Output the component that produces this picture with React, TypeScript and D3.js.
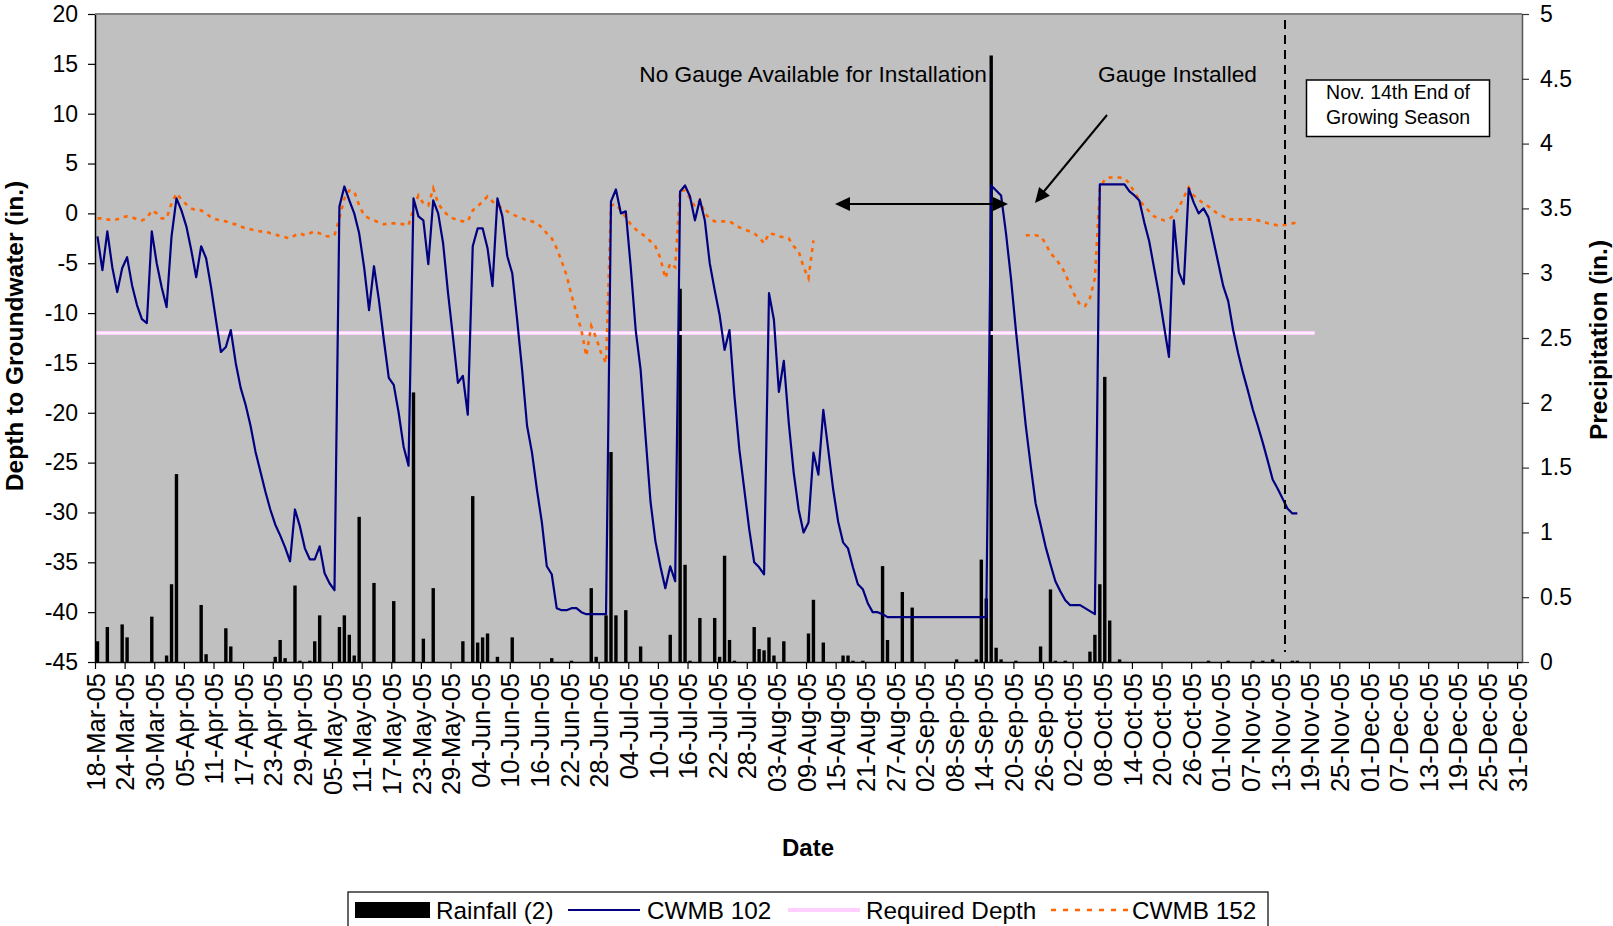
import React, { useRef, useEffect } from 'react';
import * as d3 from 'd3';

// axis range and ticks
const START = '2005-03-18';
const END = '2006-01-01';
const TICK_STEP_DAYS = 6;
const leftTicks = [20, 15, 10, 5, 0, -5, -10, -15, -20, -25, -30, -35, -40, -45];
const rightTicks = [0, 0.5, 1, 1.5, 2, 2.5, 3, 3.5, 4, 4.5, 5];

// CWMB 102, daily from 18-Mar-05 (inches)
const cwmb102 = [
  -2.3, -5.7, -1.8, -5.4, -7.9, -5.5, -4.4, -7.2, -9.2, -10.6,
  -11.0, -1.8, -5.0, -7.4, -9.4, -2.3, 1.5, 0.3, -1.3, -3.7,
  -6.4, -3.3, -4.5, -7.4, -10.7, -13.9, -13.4, -11.7, -15.0, -17.5,
  -19.2, -21.3, -23.9, -25.9, -27.9, -29.7, -31.2, -32.3, -33.5, -34.9,
  -29.7, -31.4, -33.6, -34.7, -34.7, -33.4, -36.1, -37.1, -37.8, 0.7,
  2.7, 1.3, 0.0, -2.0, -5.4, -9.7, -5.3, -8.7, -12.7, -16.5,
  -17.2, -20.0, -23.4, -25.3, 1.5, -0.3, -0.7, -5.1, 1.3, 0.0,
  -3.0, -8.0, -12.4, -17.0, -16.3, -20.2, -3.3, -1.5, -1.5, -3.5,
  -7.3, 1.5, -0.3, -4.3, -6.0, -10.7, -15.7, -21.3, -24.0, -27.7,
  -31.0, -35.4, -36.2, -39.6, -39.8, -39.8, -39.6, -39.6, -40.0, -40.2,
  -40.2, -40.2, -40.2, -40.2, 1.2, 2.4, 0.0, 0.2, -5.4, -11.7,
  -15.7, -22.4, -28.9, -32.9, -35.4, -37.6, -35.4, -36.9, 2.2, 2.8,
  1.7, -0.7, 1.4, -0.7, -5.0, -7.7, -10.2, -13.7, -11.7, -18.3,
  -23.7, -27.7, -31.7, -35.0, -35.5, -36.2, -8.0, -10.7, -17.9, -14.8,
  -21.0, -26.0, -29.7, -32.0, -31.0, -24.0, -26.2, -19.7, -23.7, -27.7,
  -30.9, -33.0, -33.6, -35.5, -37.2, -37.7, -39.1, -40.0, -40.0, -40.2,
  -40.5, -40.5, -40.5, -40.5, -40.5, -40.5, -40.5, -40.5, -40.5, -40.5,
  -40.5, -40.5, -40.5, -40.5, -40.5, -40.5, -40.5, -40.5, -40.5, -40.5,
  -40.5, 2.8, 2.3, 1.8, -2.0, -6.5, -11.7, -16.5, -21.3, -25.3,
  -29.1, -31.2, -33.4, -35.2, -36.9, -37.9, -38.8, -39.3, -39.3, -39.3,
  -39.6, -39.9, -40.2, 2.9, 2.9, 2.9, 2.9, 2.9, 2.9, 2.2,
  1.8, 1.3, -0.9, -2.8, -5.5, -8.2, -11.3, -14.4, -0.7, -5.9,
  -7.1, 2.5, 1.1, 0.0, 0.5, -0.4, -2.7, -5.0, -7.3, -8.8,
  -11.7, -14.0, -16.0, -17.8, -19.7, -21.3, -23.0, -24.8, -26.7, -27.6,
  -28.6, -29.6, -30.1, -30.1,
];

// CWMB 152, two runs (no gauge between them)
const cwmb152aStart = '2005-03-18';
const cwmb152a = [
  -0.5, -0.5, -0.6, -0.7, -0.6, -0.4, -0.3, -0.4, -0.6, -0.7,
  -0.5, 0.3, 0.0, -0.5, -0.5, 1.0, 2.0, 1.4, 0.9, 0.5,
  0.3, 0.3, 0.0, -0.4, -0.6, -0.7, -0.8, -1.0, -1.1, -1.3,
  -1.5, -1.6, -1.7, -1.8, -1.8, -2.0, -2.1, -2.3, -2.4, -2.5,
  -2.2, -2.0, -2.2, -2.0, -1.8, -2.0, -2.3, -2.3, -2.2, -0.5,
  1.5, 2.3, 2.2, 0.8, -0.2, -0.5, -0.7, -0.9, -1.1, -1.0,
  -1.0, -1.0, -1.1, -1.2, 0.5, 1.8, 1.0, 0.8, 2.5, 1.0,
  0.3, -0.2, -0.5, -0.7, -0.8, -0.8, 0.3, 0.7, 1.2, 1.7,
  1.2, 0.8, 0.5, 0.2, -0.1, -0.3, -0.5, -0.7, -0.8, -1.0,
  -1.4, -2.0, -2.5, -3.5, -4.8, -6.2, -8.2, -10.0, -11.7, -14.3,
  -11.3, -12.5, -14.0, -15.0, 0.8, 0.9, 0.3, -0.4, -1.1, -1.6,
  -2.0, -2.3, -2.8, -3.3, -4.5, -6.5, -5.0, -5.4, 2.3, 2.3,
  1.5, 0.7, 1.3, 0.0, -0.5, -0.8, -0.8, -0.8, -0.8, -1.1,
  -1.4, -1.6, -1.8, -2.0, -2.4, -3.0, -2.0, -2.1, -2.3, -2.4,
  -2.5, -3.3, -3.8, -5.4, -6.5, -2.7,
];
const cwmb152bStart = '2005-09-22';
const cwmb152b = [
  -2.2, -2.2, -2.2, -2.3, -3.0, -4.0, -4.5, -5.2, -6.0, -7.3,
  -8.3, -9.2, -9.3, -8.5, -6.5, 2.5, 3.4, 3.6, 3.6, 3.6,
  3.5, 3.0, 2.1, 1.4, 0.7, 0.2, -0.3, -0.5, -0.7, -0.6,
  -0.2, 0.6, 1.6, 2.6, 1.8, 1.4, 1.0, 0.7, 0.3, -0.1,
  -0.3, -0.6, -0.6, -0.6, -0.6, -0.6, -0.6, -0.7, -0.8, -1.0,
  -1.1, -1.2, -1.2, -1.1, -1.0, -0.9,
];

// Rainfall (2), inches
const rainDates = [
  '2005-03-18', '2005-03-20', '2005-03-23', '2005-03-24', '2005-03-29', '2005-04-01', '2005-04-02', '2005-04-03',
  '2005-04-08', '2005-04-09', '2005-04-13', '2005-04-14', '2005-04-23', '2005-04-24', '2005-04-25', '2005-04-27',
  '2005-04-28', '2005-04-30', '2005-05-01', '2005-05-02', '2005-05-06', '2005-05-07', '2005-05-08', '2005-05-09',
  '2005-05-10', '2005-05-13', '2005-05-17', '2005-05-21', '2005-05-23', '2005-05-25', '2005-05-31', '2005-06-02',
  '2005-06-03', '2005-06-04', '2005-06-05', '2005-06-07', '2005-06-10', '2005-06-18', '2005-06-22', '2005-06-26',
  '2005-06-27', '2005-06-29', '2005-06-30', '2005-07-01', '2005-07-03', '2005-07-06', '2005-07-12', '2005-07-14',
  '2005-07-15', '2005-07-16', '2005-07-18', '2005-07-21', '2005-07-22', '2005-07-23', '2005-07-24', '2005-07-25',
  '2005-07-29', '2005-07-30', '2005-07-31', '2005-08-01', '2005-08-02', '2005-08-04', '2005-08-09', '2005-08-10',
  '2005-08-12', '2005-08-16', '2005-08-17', '2005-08-18', '2005-08-20', '2005-08-24', '2005-08-25', '2005-08-28',
  '2005-08-30', '2005-09-08', '2005-09-12', '2005-09-13', '2005-09-14', '2005-09-15', '2005-09-16', '2005-09-17',
  '2005-09-20', '2005-09-25', '2005-09-27', '2005-09-28', '2005-09-30', '2005-10-05', '2005-10-06', '2005-10-07',
  '2005-10-08', '2005-10-09', '2005-10-11', '2005-10-29', '2005-11-02', '2005-11-07', '2005-11-09', '2005-11-11',
  '2005-11-15', '2005-11-16',
];
const rainInches = [
  0.16, 0.27, 0.29, 0.19, 0.35, 0.05, 0.60, 1.45,
  0.44, 0.06, 0.26, 0.12, 0.04, 0.17, 0.03, 0.59,
  0.01, 0.01, 0.16, 0.36, 0.27, 0.36, 0.21, 0.05,
  1.12, 0.61, 0.47, 2.08, 0.18, 0.57, 0.16, 1.28,
  0.15, 0.19, 0.22, 0.04, 0.19, 0.03, 0.01, 0.57,
  0.04, 0.36, 1.62, 0.36, 0.40, 0.12, 0.21, 2.88,
  0.75, 0.01, 0.34, 0.34, 0.04, 0.82, 0.17, 0.01,
  0.27, 0.10, 0.09, 0.19, 0.05, 0.16, 0.22, 0.48,
  0.15, 0.05, 0.05, 0.01, 0.01, 0.74, 0.17, 0.54,
  0.42, 0.02, 0.02, 0.79, 0.49, 4.68, 0.11, 0.02,
  0.01, 0.12, 0.56, 0.01, 0.01, 0.08, 0.21, 0.60,
  2.20, 0.32, 0.02, 0.01, 0.01, 0.01, 0.01, 0.02,
  0.01, 0.01,
];

const requiredDepth = -12;
const requiredFrom = '2005-03-18';
const requiredTo = '2005-11-20';
const seasonEnd = '2005-11-14';

const FONT = "Arial, 'Liberation Sans', sans-serif";
const W = 1613;
const H = 926;
const M = { left: 95, right: 1522, top: 14, bottom: 662 };

const parse = d3.utcParse('%Y-%m-%d');
type Pt = { date: Date; value: number };

const toSeries = (start: string, values: number[]): Pt[] =>
  values.map((v, i) => ({ date: d3.utcDay.offset(parse(start) as Date, i), value: v }));

type Sel = d3.Selection<SVGSVGElement, unknown, null, undefined>;

const drawAxes = (svg: Sel, x: d3.ScaleTime<number, number>, yL: d3.ScaleLinear<number, number>, yR: d3.ScaleLinear<number, number>) => {
  const tickDates = d3.utcDay.range(parse(START) as Date, parse(END) as Date, TICK_STEP_DAYS);

  const gx = svg.append('g')
    .attr('transform', `translate(0,${M.bottom})`)
    .call(d3.axisBottom(x).tickValues(tickDates).tickFormat(d3.utcFormat('%d-%b-%y') as any).tickSize(7).tickSizeOuter(0));
  gx.attr('font-size', 25.5).attr('font-family', FONT);
  gx.select('.domain').attr('stroke', '#000').attr('stroke-width', 1.5);
  gx.selectAll('.tick line').attr('stroke', '#000').attr('stroke-width', 1.2);
  gx.selectAll('.tick text')
    .attr('transform', 'rotate(-90)')
    .attr('text-anchor', 'end')
    .attr('x', -11)
    .attr('y', 0)
    .attr('dy', '0.36em')
    .attr('fill', '#000');

  const gl = svg.append('g')
    .attr('transform', `translate(${M.left},0)`)
    .call(d3.axisLeft(yL).tickValues(leftTicks).tickFormat((d) => String(d)).tickSize(7).tickSizeOuter(0).tickPadding(10));
  gl.attr('font-size', 23).attr('font-family', FONT);
  gl.select('.domain').attr('stroke', '#000').attr('stroke-width', 1.5);
  gl.selectAll('.tick line').attr('stroke', '#000').attr('stroke-width', 1.2);
  gl.selectAll('.tick text').attr('fill', '#000');

  const gr = svg.append('g')
    .attr('transform', `translate(${M.right},0)`)
    .call(d3.axisRight(yR).tickValues(rightTicks).tickFormat((d) => String(d)).tickSize(7).tickSizeOuter(0).tickPadding(11));
  gr.attr('font-size', 23).attr('font-family', FONT);
  gr.select('.domain').attr('stroke', '#555').attr('stroke-width', 1.5);
  gr.selectAll('.tick line').attr('stroke', '#333').attr('stroke-width', 1.2);
  gr.selectAll('.tick text').attr('fill', '#000');

  svg.append('line')
    .attr('x1', M.left).attr('x2', M.right)
    .attr('y1', M.top).attr('y2', M.top)
    .attr('stroke', '#808080').attr('stroke-width', 2);

  svg.append('text')
    .attr('transform', `translate(23,${(M.top + M.bottom) / 2 - 2}) rotate(-90)`)
    .attr('text-anchor', 'middle')
    .attr('font-family', FONT).attr('font-size', 24.5).attr('font-weight', 'bold')
    .text('Depth to Groundwater (in.)');

  svg.append('text')
    .attr('transform', `translate(1607,${(M.top + M.bottom) / 2 + 2}) rotate(-90)`)
    .attr('text-anchor', 'middle')
    .attr('font-family', FONT).attr('font-size', 24.5).attr('font-weight', 'bold')
    .text('Precipitation (in.)');

  svg.append('text')
    .attr('x', 808).attr('y', 856)
    .attr('text-anchor', 'middle')
    .attr('font-family', FONT).attr('font-size', 24).attr('font-weight', 'bold')
    .text('Date');
};

const drawSeries = (svg: Sel, x: d3.ScaleTime<number, number>, yL: d3.ScaleLinear<number, number>, yR: d3.ScaleLinear<number, number>) => {
  const mid = (d: Date) => x(d3.utcHour.offset(d, 12));

  // rainfall bars on the right axis
  const rain = rainDates.map((s, i) => ({ date: parse(s) as Date, value: rainInches[i] }));
  svg.append('g').selectAll('rect')
    .data(rain)
    .enter().append('rect')
    .attr('x', (d) => mid(d.date) - 1.7)
    .attr('width', 3.4)
    .attr('y', (d) => yR(d.value))
    .attr('height', (d) => yR(0) - yR(d.value))
    .attr('fill', '#000');

  // required depth
  svg.append('line')
    .attr('x1', x(parse(requiredFrom) as Date)).attr('x2', x(parse(requiredTo) as Date))
    .attr('y1', yL(requiredDepth)).attr('y2', yL(requiredDepth))
    .attr('stroke', '#FFD0FF').attr('stroke-width', 4);
  svg.append('line')
    .attr('x1', x(parse(requiredFrom) as Date)).attr('x2', x(parse(requiredTo) as Date))
    .attr('y1', yL(requiredDepth)).attr('y2', yL(requiredDepth))
    .attr('stroke', '#FFF6FF').attr('stroke-width', 1.3);

  const line = d3.line<Pt>().x((d) => mid(d.date)).y((d) => yL(d.value));

  [toSeries(cwmb152aStart, cwmb152a), toSeries(cwmb152bStart, cwmb152b)].forEach((s) => {
    svg.append('path')
      .attr('d', line(s))
      .attr('fill', 'none')
      .attr('stroke', '#FF6600')
      .attr('stroke-width', 2.6)
      .attr('stroke-dasharray', '4 5');
  });

  svg.append('path')
    .attr('d', line(toSeries(START, cwmb102)))
    .attr('fill', 'none')
    .attr('stroke', '#000080')
    .attr('stroke-width', 2.2)
    .attr('stroke-linejoin', 'round');
};

const arrowHead = (svg: Sel, x1: number, y1: number, x2: number, y2: number) => {
  const a = Math.atan2(y2 - y1, x2 - x1);
  const len = 15;
  const half = 7;
  const bx = x2 - len * Math.cos(a);
  const by = y2 - len * Math.sin(a);
  const px = -Math.sin(a) * half;
  const py = Math.cos(a) * half;
  svg.append('path')
    .attr('d', `M${x2},${y2}L${bx + px},${by + py}L${bx - px},${by - py}Z`)
    .attr('fill', '#000');
};

const drawNotes = (svg: Sel, x: d3.ScaleTime<number, number>, yL: d3.ScaleLinear<number, number>) => {
  const xs = x(parse(seasonEnd) as Date);
  svg.append('line')
    .attr('x1', xs).attr('x2', xs)
    .attr('y1', yL(19.4)).attr('y2', yL(-44))
    .attr('stroke', '#000').attr('stroke-width', 2).attr('stroke-dasharray', '9 6');

  svg.append('text')
    .attr('x', 987).attr('y', 82)
    .attr('text-anchor', 'end')
    .attr('font-family', FONT).attr('font-size', 22.7)
    .text('No Gauge Available for Installation');

  svg.append('text')
    .attr('x', 1098).attr('y', 82)
    .attr('font-family', FONT).attr('font-size', 22.7)
    .text('Gauge Installed');

  // double arrow
  svg.append('line')
    .attr('x1', 845).attr('x2', 998).attr('y1', 204).attr('y2', 204)
    .attr('stroke', '#000').attr('stroke-width', 2.2);
  arrowHead(svg, 900, 204, 835, 204);
  arrowHead(svg, 900, 204, 1008, 204);

  // installed arrow
  svg.append('line')
    .attr('x1', 1107).attr('y1', 115).attr('x2', 1041).attr('y2', 195)
    .attr('stroke', '#000').attr('stroke-width', 2);
  arrowHead(svg, 1107, 115, 1035, 203);

  // text box
  svg.append('rect')
    .attr('x', 1306.5).attr('y', 80).attr('width', 183).attr('height', 56.5)
    .attr('fill', '#fff').attr('stroke', '#000').attr('stroke-width', 1.5);
  svg.append('text')
    .attr('x', 1398).attr('y', 99)
    .attr('text-anchor', 'middle')
    .attr('font-family', FONT).attr('font-size', 19.5)
    .text('Nov. 14th End of');
  svg.append('text')
    .attr('x', 1398).attr('y', 124)
    .attr('text-anchor', 'middle')
    .attr('font-family', FONT).attr('font-size', 19.5)
    .text('Growing Season');
};

const drawLegend = (svg: Sel) => {
  const g = svg.append('g').attr('font-family', FONT).attr('font-size', 24.3);
  g.append('rect')
    .attr('x', 348).attr('y', 892).attr('width', 920).attr('height', 50)
    .attr('fill', '#fff').attr('stroke', '#000').attr('stroke-width', 1.2);
  const ty = 919;
  const cy = 910;

  g.append('rect').attr('x', 355).attr('y', 902).attr('width', 75).attr('height', 16).attr('fill', '#000');
  g.append('text').attr('x', 436).attr('y', ty).text('Rainfall (2)');

  g.append('line').attr('x1', 568).attr('x2', 640).attr('y1', cy).attr('y2', cy)
    .attr('stroke', '#000080').attr('stroke-width', 2.2);
  g.append('text').attr('x', 647).attr('y', ty).text('CWMB 102');

  g.append('line').attr('x1', 788).attr('x2', 860).attr('y1', cy).attr('y2', cy)
    .attr('stroke', '#FFD0FF').attr('stroke-width', 4);
  g.append('text').attr('x', 866).attr('y', ty).text('Required Depth');

  g.append('line').attr('x1', 1051).attr('x2', 1128).attr('y1', cy).attr('y2', cy)
    .attr('stroke', '#FF6600').attr('stroke-width', 2.6).attr('stroke-dasharray', '5 7');
  g.append('text').attr('x', 1132).attr('y', ty).text('CWMB 152');
};

const GroundwaterChart: React.FC = () => {
  const svgRef = useRef<SVGSVGElement | null>(null);

  useEffect(() => {
    if (!svgRef.current) return;
    const svg = d3.select<SVGSVGElement, unknown>(svgRef.current);
    svg.selectAll('*').remove();

    const x = d3.scaleUtc()
      .domain([parse(START) as Date, parse(END) as Date])
      .range([M.left, M.right]);
    const yL = d3.scaleLinear().domain([-45, 20]).range([M.bottom, M.top]);
    const yR = d3.scaleLinear().domain([0, 5]).range([M.bottom, M.top]);

    svg.append('rect')
      .attr('x', M.left).attr('y', M.top)
      .attr('width', M.right - M.left).attr('height', M.bottom - M.top)
      .attr('fill', '#C0C0C0');

    drawSeries(svg, x, yL, yR);
    drawAxes(svg, x, yL, yR);
    drawNotes(svg, x, yL);
    drawLegend(svg);
  }, []);

  return (
    <svg
      ref={svgRef}
      width={W}
      height={H}
      style={{ position: 'absolute', left: 0, top: 0, background: '#fff', display: 'block' }}
    ></svg>
  );
};

export default function App() {
  return <GroundwaterChart />;
}
